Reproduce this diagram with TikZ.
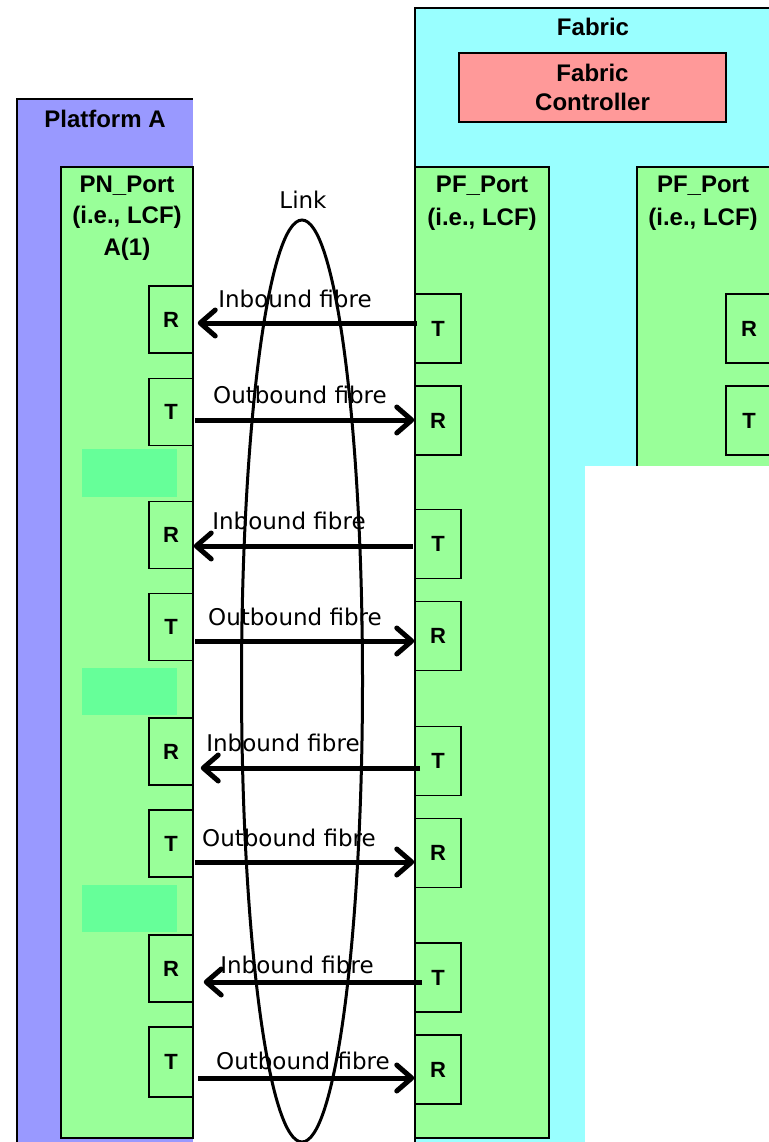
\documentclass[tikz,border=0pt]{standalone}
\usepackage{fontspec}
\setmainfont{DejaVu Sans}
\newfontfamily\arialf{Liberation Sans}
\usetikzlibrary{arrows.meta,shapes.geometric}
\definecolor{plat}{HTML}{9999FF}
\definecolor{fab}{HTML}{99FFFF}
\definecolor{pgreen}{HTML}{99FF99}
\definecolor{pink}{HTML}{FF9999}
\definecolor{mint}{HTML}{66FF99}
\newcommand{\rtfont}{\arialf\fontsize{22}{22}\selectfont\bfseries}
\tikzset{
  bold/.style={font=\arialf\bfseries\fontsize{24}{30}\selectfont, align=center, inner sep=0pt},
  rtbox/.style={draw, line width=1.5pt, fill=pgreen, inner sep=0pt, font=\rtfont},
  lbox/.style={rtbox, minimum width=44pt, minimum height=67pt},
  rbox/.style={rtbox, minimum width=46pt, minimum height=69pt},
  fib/.style={line width=5pt, -{Straight Barb[round, length=15pt, width=26pt]}},
  fiblabel/.style={font=\fontsize{23}{23}\selectfont, inner sep=0pt},
  edge/.style={line width=1.5pt},
  mintbox/.style={fill=mint}
}
\begin{document}
\begin{tikzpicture}[x=1pt, y=-1pt]
\useasboundingbox (0,0) rectangle (768,1142);
\fill[white] (0,0) rectangle (768,1142);
% Platform A
\fill[plat] (17,99) rectangle (193,1150);
\draw[edge] (17,1150) -- (17,99) -- (193,99);
\node[bold] (platA) at (105,119) {Platform A};
% Fabric
\fill[fab] (415,8) rectangle (780,1150);
\draw[edge] (415,1150) -- (415,8) -- (780,8);
\node[bold] (fabric) at (593,27) {Fabric};
\node[bold, draw, line width=1.5pt, fill=pink, minimum width=267pt, minimum height=69pt,
  font=\arialf\bfseries\fontsize{24}{29}\selectfont] (ctrl) at (592.5,87.5) {Fabric\\Controller};
% PF_Port 2 (partly hidden)
\fill[pgreen] (637,167) rectangle (780,466);
\draw[edge] (637,466) -- (637,167) -- (780,167);
\node[bold, font=\arialf\bfseries\fontsize{24}{33}\selectfont] (pf2) at (703,203) {PF\_Port\\(i.e., LCF)};
\node[rbox] (qR1) at (749,328.5) {R};
\node[rbox] (qT1) at (749,420.5) {T};
% white cover
\fill[white] (585,466) rectangle (780,1150);
% PN_Port
\draw[edge, fill=pgreen] (61,167) rectangle (193,1138);
\node[bold, font=\arialf\bfseries\fontsize{24}{31.5}\selectfont] (pn) at (127,218) {PN\_Port\\(i.e., LCF)\\A(1)};
% PF_Port 1
\draw[edge, fill=pgreen] (415,167) rectangle (549,1138);
\node[bold, font=\arialf\bfseries\fontsize{24}{33}\selectfont] (pf1) at (482,203) {PF\_Port\\(i.e., LCF)};
% mint blocks
\fill[mintbox] (82,449) rectangle (177,497);
\fill[mintbox] (82,668) rectangle (177,715);
\fill[mintbox] (82,885) rectangle (177,932);
% left boxes
\node[lbox] (lR1) at (171,319.5) {R};
\node[lbox] (lT1) at (171,412) {T};
\node[lbox] (lR2) at (171,535) {R};
\node[lbox] (lT2) at (171,627) {T};
\node[lbox] (lR3) at (171,751.5) {R};
\node[lbox] (lT3) at (171,843.5) {T};
\node[lbox] (lR4) at (171,968.5) {R};
\node[lbox, minimum height=70pt] (lT4) at (171,1062) {T};
% right boxes
\node[rbox] (rT1) at (438,328.5) {T};
\node[rbox] (rR1) at (438,420.5) {R};
\node[rbox] (rT2) at (438,544) {T};
\node[rbox] (rR2) at (438,636) {R};
\node[rbox] (rT3) at (438,761) {T};
\node[rbox] (rR3) at (438,853) {R};
\node[rbox] (rT4) at (438,977.5) {T};
\node[rbox] (rR4) at (438,1069.5) {R};
% link ellipse
\node[draw, ellipse, line width=3pt, minimum width=121pt, minimum height=922pt, inner sep=0pt] (link) at (302,681) {};
\node[fiblabel] (linklbl) at (303,200) {Link};
% fibres
\coordinate (a1) at (417,323);
\coordinate (b1) at (195,420);
\coordinate (a2) at (413,546);
\coordinate (b2) at (195,641);
\coordinate (a3) at (420,768);
\coordinate (b3) at (195,862);
\coordinate (a4) at (422,982);
\coordinate (b4) at (198,1078);
\draw[fib] (a1) -- ([xshift=4pt]lR1.east |- a1);
\draw[fib] (b1) -- (rR1.west |- b1);
\draw[fib] (a2) -- (lR2.east |- a2);
\draw[fib] (b2) -- (rR2.west |- b2);
\draw[fib] (a3) -- ([xshift=7pt]lR3.east |- a3);
\draw[fib] (b3) -- (rR3.west |- b3);
\draw[fib] (a4) -- ([xshift=10pt]lR4.east |- a4);
\draw[fib] (b4) -- (rR4.west |- b4);
\node[fiblabel] (in1) at (295,299) {Inbound fibre};
\node[fiblabel] (out1) at (300,395) {Outbound fibre};
\node[fiblabel] (in2) at (289,521) {Inbound fibre};
\node[fiblabel] (out2) at (295,617) {Outbound fibre};
\node[fiblabel] (in3) at (283,743) {Inbound fibre};
\node[fiblabel] (out3) at (289,838) {Outbound fibre};
\node[fiblabel] (in4) at (297,965) {Inbound fibre};
\node[fiblabel] (out4) at (303,1061) {Outbound fibre};
\end{tikzpicture}
\end{document}
